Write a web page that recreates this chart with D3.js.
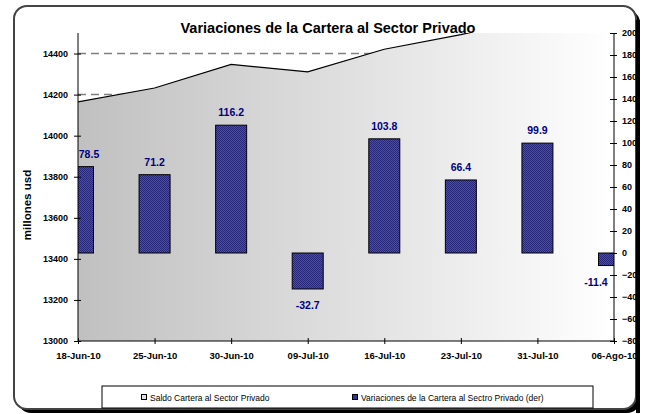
<!DOCTYPE html>
<html>
<head>
<meta charset="utf-8">
<script src="https://cdn.jsdelivr.net/npm/d3@7"></script>
<style>
  body { margin: 0; background: #fff; }
  svg { display: block; font-family: "Liberation Sans", Arial, sans-serif; }
</style>
</head>
<body>
<div id="chart"></div>
<script>
const fechas = ["18-Jun-10", "25-Jun-10", "30-Jun-10", "09-Jul-10", "16-Jul-10", "23-Jul-10", "31-Jul-10", "06-Ago-10"];
const saldo = [14165, 14232, 14347, 14311, 14421, 14492, 14575, 14640];
const variaciones = [78.5, 71.2, 116.2, -32.7, 103.8, 66.4, 99.9, -11.4];
const ticksIzq = [13000, 13200, 13400, 13600, 13800, 14000, 14200, 14400];
const ticksDer = [-80, -60, -40, -20, 0, 20, 40, 60, 80, 100, 120, 140, 160, 180, 200];

const width = 648, height = 414;
const plot = { left: 78, right: 614, top: 33, bottom: 341 };

const svg = d3.select("#chart").append("svg")
    .attr("width", width)
    .attr("height", height);

const defs = svg.append("defs");

const grad = defs.append("linearGradient")
    .attr("id", "gradArea")
    .attr("gradientUnits", "userSpaceOnUse")
    .attr("x1", plot.left).attr("x2", plot.right)
    .attr("y1", 0).attr("y2", 0);
grad.append("stop").attr("offset", "0%").attr("stop-color", "#c0c0c0");
grad.append("stop").attr("offset", "100%").attr("stop-color", "#ffffff");

const pat = defs.append("pattern")
    .attr("id", "hatch")
    .attr("patternUnits", "userSpaceOnUse")
    .attr("width", 2).attr("height", 2);
pat.append("rect").attr("width", 2).attr("height", 2).attr("fill", "#4c4cae");
pat.append("rect").attr("width", 1).attr("height", 1).attr("fill", "#26267a");
pat.append("rect").attr("x", 1).attr("y", 1).attr("width", 1).attr("height", 1).attr("fill", "#26267a");

defs.append("clipPath").attr("id", "clipPlot")
    .append("rect")
    .attr("x", plot.left).attr("y", plot.top)
    .attr("width", plot.right - plot.left)
    .attr("height", plot.bottom - plot.top);

// marco con sombra
svg.append("rect")
    .attr("x", 18).attr("y", 10)
    .attr("width", 622).attr("height", 403)
    .attr("rx", 13)
    .attr("fill", "#000");
svg.append("rect")
    .attr("x", 14).attr("y", 6)
    .attr("width", 622).attr("height", 403)
    .attr("rx", 13)
    .attr("fill", "#fff")
    .attr("stroke", "#444")
    .attr("stroke-width", 2);

const x = d3.scalePoint()
    .domain(fechas)
    .range([plot.left, plot.right]);

const yIzq = d3.scaleLinear()
    .domain([13000, 14500])
    .range([plot.bottom, plot.top]);

const yDer = d3.scaleLinear()
    .domain([-80, 200])
    .range([plot.bottom, plot.top]);

const datos = fechas.map((f, i) => ({ fecha: f, saldo: saldo[i], v: variaciones[i] }));

// lineas de division
svg.append("g")
    .selectAll("line")
    .data(ticksIzq.filter(t => t > 13000))
    .enter()
    .append("line")
    .attr("x1", plot.left).attr("x2", plot.right)
    .attr("y1", d => yIzq(d)).attr("y2", d => yIzq(d))
    .attr("stroke", "#808080")
    .attr("stroke-width", 1.5)
    .attr("stroke-dasharray", "8,5");

const zona = svg.append("g").attr("clip-path", "url(#clipPlot)");

const area = d3.area()
    .x(d => x(d.fecha))
    .y0(yIzq(13000))
    .y1(d => yIzq(d.saldo));

zona.append("path")
    .datum(datos)
    .attr("d", area)
    .attr("fill", "url(#gradArea)");

zona.append("path")
    .datum(datos)
    .attr("d", d3.line().x(d => x(d.fecha)).y(d => yIzq(d.saldo)))
    .attr("fill", "none")
    .attr("stroke", "#000")
    .attr("stroke-width", 1.2);

const barW = 31;
zona.selectAll(".bar")
    .data(datos)
    .enter()
    .append("rect")
    .attr("class", "bar")
    .attr("x", d => x(d.fecha) - barW / 2)
    .attr("y", d => yDer(Math.max(0, d.v)))
    .attr("width", barW)
    .attr("height", d => Math.abs(yDer(d.v) - yDer(0)))
    .attr("fill", "url(#hatch)")
    .attr("stroke", "#000")
    .attr("stroke-width", 1);

// etiquetas de datos
svg.selectAll(".label")
    .data(datos)
    .enter()
    .append("text")
    .attr("class", "label")
    .attr("x", d => Math.min(Math.max(x(d.fecha), plot.left + 11), plot.right - 18))
    .attr("y", d => d.v >= 0 ? yDer(d.v) - 9 : yDer(d.v) + 20)
    .attr("text-anchor", "middle")
    .attr("fill", "#000080")
    .style("font-size", "10.5px")
    .style("font-weight", "bold")
    .text(d => d.v.toFixed(1));

// ejes
const ejeIzq = svg.append("g")
    .attr("transform", `translate(${plot.left},0)`)
    .call(d3.axisLeft(yIzq).tickValues(ticksIzq).tickFormat(d3.format("d")).tickSize(4).tickPadding(6));
ejeIzq.select(".domain").attr("d", `M0,${plot.top}V${plot.bottom}`).attr("stroke", "#000");
ejeIzq.selectAll(".tick line").attr("x1", -4).attr("x2", 3);
ejeIzq.selectAll("text").style("font-size", "9px").style("font-weight", "bold").attr("fill", "#000");

const ejeDer = svg.append("g")
    .attr("transform", `translate(${plot.right},0)`)
    .call(d3.axisRight(yDer).tickValues(ticksDer).tickSize(3).tickPadding(5));
ejeDer.select(".domain").attr("d", `M0,${plot.top}V${plot.bottom}`).attr("stroke", "#000");
ejeDer.selectAll(".tick line").attr("x1", -4).attr("x2", 3);
ejeDer.selectAll("text").style("font-size", "9px").style("font-weight", "bold").attr("fill", "#000");

const ejeX = svg.append("g")
    .attr("transform", `translate(0,${plot.bottom})`)
    .call(d3.axisBottom(x).tickSize(3).tickPadding(8));
ejeX.select(".domain").attr("d", `M${plot.left},0H${plot.right}`).attr("stroke", "#000");
ejeX.selectAll(".tick line").attr("y1", -3).attr("y2", 3);
ejeX.selectAll("text").style("font-size", "9.5px").style("font-weight", "bold").attr("fill", "#000");

// titulo
svg.append("text")
    .attr("x", 328).attr("y", 33)
    .attr("text-anchor", "middle")
    .style("font-size", "14.5px")
    .style("font-weight", "bold")
    .text("Variaciones de la Cartera al Sector Privado");

svg.append("text")
    .attr("transform", "translate(31,205) rotate(-90)")
    .attr("text-anchor", "middle")
    .style("font-size", "11.5px")
    .style("font-weight", "bold")
    .text("millones usd");

// leyenda
const ley = svg.append("g");
ley.append("rect")
    .attr("x", 102).attr("y", 386)
    .attr("width", 491).attr("height", 22)
    .attr("fill", "#fff")
    .attr("stroke", "#000")
    .attr("stroke-width", 1);
ley.append("rect")
    .attr("x", 141.5).attr("y", 394.5)
    .attr("width", 5).attr("height", 5)
    .attr("fill", "#e0e0e0").attr("stroke", "#000");
ley.append("text")
    .attr("x", 150).attr("y", 400.5)
    .style("font-size", "8.5px")
    .text("Saldo Cartera al Sector Privado");
ley.append("rect")
    .attr("x", 352.5).attr("y", 394.5)
    .attr("width", 5).attr("height", 5)
    .attr("fill", "#333399").attr("stroke", "#000");
ley.append("text")
    .attr("x", 361).attr("y", 400.5)
    .style("font-size", "8.5px")
    .text("Variaciones de la Cartera al Sectro Privado (der)");

// sombra derecha sobre etiquetas
svg.append("rect")
    .attr("x", 636).attr("y", 20)
    .attr("width", 4).attr("height", 393)
    .attr("fill", "#000");
svg.append("rect")
    .attr("x", 640).attr("y", 0)
    .attr("width", 8).attr("height", 414)
    .attr("fill", "#fff");
</script>
</body>
</html>
